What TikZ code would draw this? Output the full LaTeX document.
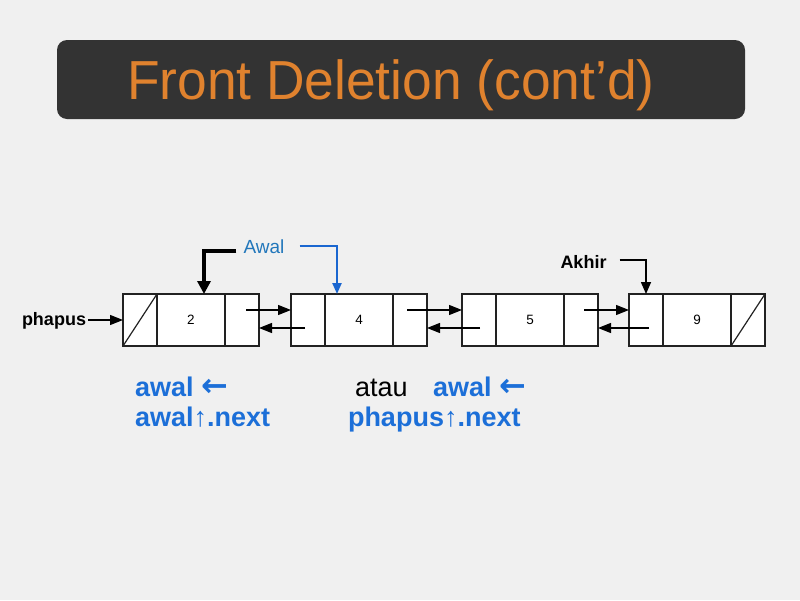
\documentclass[tikz,border=0pt]{standalone}
\usepackage{fontspec}
\setmainfont{Liberation Sans}
\newfontfamily\arrowfont{DejaVu Sans}
\usetikzlibrary{arrows.meta}
\definecolor{bg}{HTML}{F0F0F0}
\definecolor{titlebg}{HTML}{333333}
\definecolor{titlefg}{HTML}{E0822E}
\definecolor{linec}{HTML}{222222}
\definecolor{labelblue}{HTML}{2277BB}
\definecolor{arrowblue}{HTML}{1A66D0}
\definecolor{textblue}{HTML}{1C6FD8}
\newcommand{\larr}{{\arrowfont\fontsize{32pt}{30pt}\selectfont ←}}
\tikzset{
  cell/.style={draw=linec, line width=1.2pt, fill=white, minimum height=52pt, inner sep=0pt, outer sep=0pt, font=\fontsize{13.5pt}{13.5pt}\selectfont},
  smallcell/.style={cell, minimum width=34pt},
  bigcell/.style={cell, minimum width=68pt},
  ptr/.style={-{Triangle[length=13pt,width=10pt]}, line width=1.3pt, draw=black},
  txt/.style={inner sep=0pt, outer sep=0pt, anchor=base west},
  big/.style={txt, font=\fontsize{27pt}{30pt}\selectfont},
  bluebold/.style={big, text=textblue, font=\fontsize{27pt}{30pt}\selectfont\bfseries},
  lbl/.style={inner sep=0pt, outer sep=0pt, font=\fontsize{18pt}{18pt}\selectfont\bfseries}
}
\begin{document}
\begin{tikzpicture}[x=1pt,y=-1pt]
\useasboundingbox (0,0) rectangle (800,600);
\fill[bg] (0,0) rectangle (800,600);
% title
\node[fill=titlebg, rounded corners=10pt, minimum width=688pt, minimum height=79pt, inner sep=0pt] (titlebox) at (401,79.5) {};
\node[txt, text=titlefg, font=\fontsize{55pt}{55pt}\selectfont] (title) at (127,99) {\scalebox{0.97}[1]{Front Deletion (cont’d)}};
% list cells
\node[smallcell] (n1a) at (140,320) {};
\node[bigcell]   (n1b) at (191,320) {2};
\node[smallcell] (n1c) at (242,320) {};
\node[smallcell] (n2a) at (308,320) {};
\node[bigcell]   (n2b) at (359,320) {4};
\node[smallcell] (n2c) at (410,320) {};
\node[smallcell] (n3a) at (479,320) {};
\node[bigcell]   (n3b) at (530,320) {5};
\node[smallcell] (n3c) at (581,320) {};
\node[smallcell] (n4a) at (646,320) {};
\node[bigcell]   (n4b) at (697,320) {9};
\node[smallcell] (n4c) at (748,320) {};
\draw[linec, line width=1.2pt] (n1a.south west) -- (n1a.north east);
\draw[linec, line width=1.2pt] (n4c.south west) -- (n4c.north east);
% links
\draw[ptr] ([xshift=4pt,yshift=10pt]n1c.center) -- ([yshift=10pt]n2a.west);
\draw[ptr] ([xshift=-3pt,yshift=-8pt]n2a.center) -- ([yshift=-8pt]n1c.east);
\draw[ptr] ([xshift=-3pt,yshift=10pt]n2c.center) -- ([yshift=10pt]n3a.west);
\draw[ptr] ([xshift=1pt,yshift=-8pt]n3a.center) -- ([yshift=-8pt]n2c.east);
\draw[ptr] ([xshift=3pt,yshift=10pt]n3c.center) -- ([yshift=10pt]n4a.west);
\draw[ptr] ([xshift=3pt,yshift=-8pt]n4a.center) -- ([yshift=-8pt]n3c.east);
% phapus
\node[lbl, anchor=base west] (phapus) at (22,325) {phapus};
\draw[ptr] ([xshift=2pt]phapus.east |- n1a.west) -- (n1a.west);
% Awal
\node[inner sep=0pt, text=labelblue, font=\fontsize{19pt}{19pt}\selectfont] (awal) at (264,247) {Awal};
\draw[-{Triangle[length=13pt,width=13pt]}, line width=3.5pt, black] ([xshift=-7pt,yshift=-4pt]awal.west) -| ([xshift=13pt]n1b.north);
\draw[-{Triangle[length=11pt,width=9pt]}, line width=2.2pt, arrowblue] ([xshift=15pt]awal.east |- 0,246) -| ([xshift=-22pt]n2b.north);
% Akhir
\node[lbl] (akhir) at (583.5,262) {Akhir};
\draw[-{Triangle[length=12pt,width=10pt]}, line width=1.5pt, black] ([xshift=13pt,yshift=2pt]akhir.east) -| (n4a.north);
% bottom text
\node[bluebold] (l1) at (135,396) {awal \larr};
\node[bluebold] (l2) at (135,426) {awal↑.next};
\node[big] (l3) at (355,396) {atau};
\node[bluebold] (l4) at (433,396) {awal \larr};
\node[bluebold] (l5) at (348,426) {phapus↑.next};
\end{tikzpicture}
\end{document}
